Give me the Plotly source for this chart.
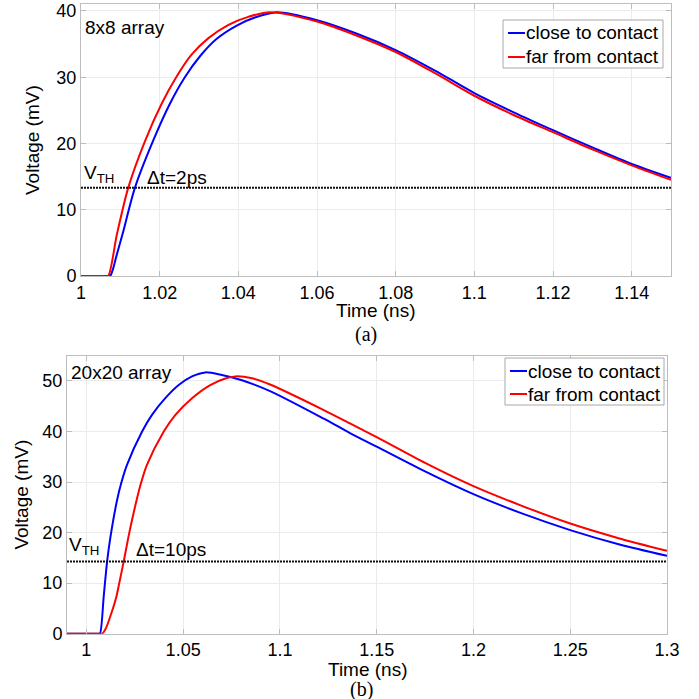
import plotly.graph_objects as go

# ---------------- data ----------------
# (a) 8x8 array
t_a_close = [1.000, 1.0064, 1.0074, 1.0080, 1.0090, 1.0106, 1.0137, 1.0184, 1.0226, 1.0264, 1.0303,
             1.0345, 1.0396, 1.0442, 1.0498, 1.0600, 1.0700, 1.0800, 1.0900, 1.1000,
             1.1100, 1.1200, 1.1300, 1.1400, 1.1500]
v_a_close = [0, 0, 0, 0.8, 3.0, 6.4, 13.3, 20.5, 26.0, 30.0, 33.2,
             35.8, 37.8, 39.0, 39.8, 38.6, 36.6, 34.1, 31.0, 27.6,
             24.7, 22.0, 19.4, 16.9, 14.8]

t_a_far = [1.000, 1.0060, 1.0069, 1.0091, 1.0120, 1.0163, 1.0205, 1.0242, 1.0281, 1.0324, 1.0375,
           1.0425, 1.0480, 1.0600, 1.0700, 1.0800, 1.0900, 1.1000, 1.1100, 1.1200,
           1.1300, 1.1400, 1.1500]
v_a_far = [0, 0, 0, 6.2, 13.3, 20.4, 26.0, 30.0, 33.4, 35.9, 37.9,
           39.1, 39.8, 38.4, 36.3, 33.8, 30.6, 27.2, 24.3, 21.7,
           19.1, 16.7, 14.5]

vth_a = 13.3
range_a = [1.0, 1.15]

# (b) 20x20 array
t_b_close = [0.99, 1.0062, 1.0070, 1.0090, 1.0107, 1.0124, 1.0158, 1.0181, 1.0210, 1.0288, 1.0339,
             1.0408, 1.0477, 1.0546, 1.0615, 1.0700, 1.0800, 1.0949, 1.1224, 1.1362,
             1.1500, 1.1750, 1.2000, 1.2250, 1.2500, 1.2750, 1.3000]
v_b_close = [0, 0, 0, 7.5, 14.2, 19.0, 26.3, 29.9, 33.4, 40.0, 43.3,
             46.6, 49.2, 50.9, 51.7, 51.2, 50.2, 48.0, 42.6, 39.7,
             37.0, 32.1, 27.6, 23.8, 20.5, 17.7, 15.4]

t_b_far = [0.99, 1.0072, 1.0082, 1.0100, 1.0120, 1.0153, 1.0170, 1.0193, 1.0222, 1.0262, 1.0284,
           1.0313, 1.0400, 1.0460, 1.0546, 1.0640, 1.0718, 1.0770, 1.0850, 1.0949,
           1.1224, 1.1362, 1.1500, 1.1750, 1.2000, 1.2250, 1.2500, 1.2750, 1.3000]
v_b_far = [0, 0, 0, 1.0, 3.0, 7.0, 10.0, 14.3, 20.0, 26.8, 30.0,
           33.4, 40.0, 43.3, 46.6, 49.2, 50.5, 50.9, 50.6, 49.3,
           44.3, 41.6, 38.9, 33.8, 29.2, 25.3, 21.8, 18.9, 16.4]

vth_b = 14.3
range_b = [0.99, 1.3]

# ticks
xt_a = [1, 1.02, 1.04, 1.06, 1.08, 1.1, 1.12, 1.14]
xt_a_txt = ["1", "1.02", "1.04", "1.06", "1.08", "1.1", "1.12", "1.14"]
yt_a = [0, 10, 20, 30, 40]
xt_b = [1, 1.05, 1.1, 1.15, 1.2, 1.25, 1.3]
xt_b_txt = ["1", "1.05", "1.1", "1.15", "1.2", "1.25", "1.3"]
yt_b = [0, 10, 20, 30, 40, 50]

names = ["close to contact", "far from contact"]
BLUE = "#0000ff"
RED = "#ff0000"
FONT = "Arial, Liberation Sans, sans-serif"
SERIF = "Times New Roman, Liberation Serif, serif"

fig = go.Figure()

def curve(t, v, name, color, xa, ya):
    fig.add_trace(go.Scatter(x=t, y=v, mode="lines", name=name, showlegend=False,
                             line=dict(color=color, width=2, shape="spline", smoothing=0.8),
                             xaxis=xa, yaxis=ya, hoverinfo="skip"))

def thresh(rng, v, xa, ya):
    fig.add_trace(go.Scatter(x=rng, y=[v, v], mode="lines", showlegend=False,
                             line=dict(color="#111111", width=2, dash="2px,1px"),
                             xaxis=xa, yaxis=ya, hoverinfo="skip"))

curve(t_a_close, v_a_close, names[0], BLUE, "x", "y")
curve(t_a_far, v_a_far, names[1], RED, "x", "y")
thresh(range_a, vth_a, "x", "y")
curve(t_b_close, v_b_close, names[0], BLUE, "x2", "y2")
curve(t_b_far, v_b_far, names[1], RED, "x2", "y2")
thresh(range_b, vth_b, "x2", "y2")

S = 699
def px(v):
    return min(1.0, max(0.0, v / S))
def py(v):
    return min(1.0, max(0.0, 1 - v / S))

axis_common = dict(showline=True, linecolor="#bdbdbd", linewidth=1, mirror="allticks",
                   ticks="inside", ticklen=5, tickcolor="#bdbdbd", automargin=False,
                   showgrid=True, gridcolor="#ebebeb", gridwidth=1, zeroline=False,
                   tickfont=dict(family=FONT, size=18, color="black"))

fig.update_layout(
    template="none",
    width=S, height=S,
    paper_bgcolor="white", plot_bgcolor="white",
    margin=dict(l=0, r=0, t=0, b=0, autoexpand=False),
    font=dict(family=FONT, color="black"),
    showlegend=False,
    xaxis=dict(domain=[px(81), px(671)], range=range_a, anchor="y",
               tickvals=xt_a, ticktext=xt_a_txt, **axis_common),
    yaxis=dict(domain=[py(276), py(4.3)], range=[0, 41], anchor="x",
               tickvals=yt_a,
               title=dict(text="Voltage (mV)", font=dict(size=19), standoff=11), **axis_common),
    xaxis2=dict(domain=[px(67), px(667)], range=range_b, anchor="y2",
                tickvals=xt_b, ticktext=xt_b_txt, **axis_common),
    yaxis2=dict(domain=[py(633.7), py(355.7)], range=[0, 55], anchor="x2",
                tickvals=yt_b,
                title=dict(text="Voltage (mV)", font=dict(size=19), standoff=8), **axis_common),
)

def note(text, x, y, size=19, family=FONT, xanchor="left"):
    fig.add_annotation(text=text, x=x, y=y, xref="paper", yref="paper",
                       xanchor=xanchor, yanchor="middle", showarrow=False,
                       font=dict(family=family, size=size, color="black"))

note("Time (ns)", px(376), py(310), xanchor="center")
note("Time (ns)", px(368), py(669), xanchor="center")
note("8x8 array", px(83), py(27))
note("V<sub>TH</sub>", px(82), py(174))
note("\u0394t=2ps", px(145), py(177))
note("20x20 array", px(69), py(372))
note("V<sub>TH</sub>", px(67), py(546))
note("\u0394t=10ps", px(134), py(549))
note("(a)", px(366), py(334), size=20, family=SERIF, xanchor="center")
note("(b)", px(361), py(689), size=20, family=SERIF, xanchor="center")

# legends (box, short line samples, labels)
def legend_box(x0, y0, x1, y1, rows):
    fig.add_shape(type="rect", xref="paper", yref="paper",
                  x0=px(x0), x1=px(x1), y0=py(y1), y1=py(y0),
                  line=dict(color="#a8a8a8", width=1), fillcolor="white", layer="above")
    for (yy, color, name) in rows:
        fig.add_shape(type="line", xref="paper", yref="paper",
                      x0=px(x0 + 5), x1=px(x0 + 22), y0=py(yy), y1=py(yy),
                      line=dict(color=color, width=2), layer="above")
        note(name, px(x0 + 21), py(yy))

legend_box(503, 20, 663, 68, [(33, BLUE, names[0]), (57, RED, names[1])])
legend_box(505, 358, 664, 405, [(371, BLUE, names[0]), (394, RED, names[1])])

fig.write_html("out.html", config={"displayModeBar": False},
               post_script="document.body.style.margin='0';")
